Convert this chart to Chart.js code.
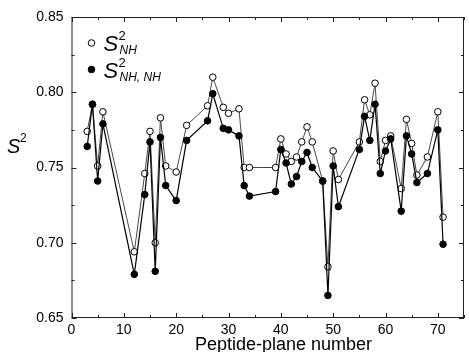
<!DOCTYPE html>
<html>
<head>
<meta charset="utf-8">
<script src="https://cdn.jsdelivr.net/npm/chart.js@4/dist/chart.umd.min.js"></script>
<style>
html,body{margin:0;padding:0;background:#fff;}
canvas{display:block;}
</style>
</head>
<body>
<canvas id="c" width="469" height="352"></canvas>
<script>
// Peptide-plane numbers
const planes = [3,4,5,6,12,14,15,16,17,18,20,22,26,27,29,30,32,33,34,39,40,41,42,43,44,45,46,48,49,50,51,55,56,57,58,59,60,61,63,64,65,66,68,70,71];
// S2_NH (open circles)
const s2NH = [0.774,0.792,0.751,0.787,0.694,0.746,0.774,0.700,0.783,0.751,0.747,0.778,0.791,0.810,0.790,0.786,0.789,0.750,0.750,0.750,0.769,0.759,0.754,0.757,0.767,0.777,0.767,0.741,0.684,0.761,0.742,0.767,0.795,0.785,0.806,0.754,0.768,0.771,0.736,0.782,0.766,0.745,0.757,0.787,0.717];
// S2_NH,NH (filled circles)
const s2NHNH = [0.764,0.792,0.741,0.779,0.679,0.732,0.767,0.681,0.770,0.738,0.728,0.768,0.781,0.799,0.776,0.775,0.771,0.738,0.731,0.734,0.762,0.753,0.739,0.744,0.754,0.760,0.750,0.741,0.665,0.751,0.724,0.762,0.784,0.768,0.792,0.746,0.761,0.769,0.721,0.771,0.759,0.740,0.746,0.775,0.699];
// Axis ticks
const xTickLabels = [0,10,20,30,40,50,60,70];
const yTickLabels = [0.65,0.70,0.75,0.80,0.85];
const xMinorTicks = [5,15,25,35,45,55,65,75];
const yMinorTicks = [0.675,0.725,0.775,0.825];

const FONT = "'Liberation Sans', Arial, Helvetica, sans-serif";

const framePlugin = {
  id: 'frameTicks',
  afterDraw(chart) {
    const ctx = chart.ctx;
    const a = chart.chartArea;
    const xs = chart.scales.x, ys = chart.scales.y;
    ctx.save();
    ctx.strokeStyle = '#222';
    ctx.lineWidth = 1;
    ctx.strokeRect(a.left + 0.5, a.top + 0.5, a.right - a.left - 1, a.bottom - a.top - 1);
    ctx.beginPath();
    const tick = (vals, len, isX) => {
      vals.forEach(v => {
        if (isX) {
          const p = Math.round(xs.getPixelForValue(v)) + 0.5;
          ctx.moveTo(p, a.bottom); ctx.lineTo(p, a.bottom - len);
          ctx.moveTo(p, a.top); ctx.lineTo(p, a.top + len);
        } else {
          const p = Math.round(ys.getPixelForValue(v)) + 0.5;
          ctx.moveTo(a.left, p); ctx.lineTo(a.left + len, p);
          ctx.moveTo(a.right, p); ctx.lineTo(a.right - len, p);
        }
      });
    };
    tick(xTickLabels, 5, true);
    tick(xMinorTicks, 3, true);
    tick(yTickLabels, 5, false);
    tick(yMinorTicks, 3, false);
    ctx.stroke();

    // Axis titles
    ctx.fillStyle = '#000';
    ctx.textBaseline = 'alphabetic';
    ctx.textAlign = 'center';
    ctx.font = '18px ' + FONT;
    ctx.fillText('Peptide-plane number', xs.getPixelForValue(40.5), 350);

    ctx.textAlign = 'left';
    ctx.font = 'italic 20px ' + FONT;
    ctx.fillText('S', 7, 153);
    ctx.font = '12px ' + FONT;
    ctx.fillText('2', 20, 142);

    // Legend
    const lx = a.left + 20;
    const drawMarker = (y, filled) => {
      ctx.beginPath();
      ctx.arc(lx, y, 3.3, 0, Math.PI * 2);
      ctx.fillStyle = filled ? '#000' : '#fff';
      ctx.fill();
      ctx.strokeStyle = '#000';
      ctx.lineWidth = 1;
      ctx.stroke();
    };
    drawMarker(43, false);
    drawMarker(69.5, true);
    ctx.fillStyle = '#000';
    const entry = (y, sub) => {
      ctx.font = 'italic 22px ' + FONT;
      ctx.fillText('S', lx + 12, y + 8);
      ctx.font = '13px ' + FONT;
      ctx.fillText('2', lx + 27, y - 3);
      ctx.font = 'italic 12px ' + FONT;
      ctx.fillText(sub, lx + 28, y + 11);
    };
    entry(43, 'NH');
    entry(69.5, 'NH, NH');
    ctx.restore();
  }
};

const toPts = (ys) => planes.map((x, i) => ({x: x, y: ys[i]}));

new Chart(document.getElementById('c'), {
  type: 'line',
  data: {
    datasets: [
      {
        label: 'S2 NH,NH',
        data: toPts(s2NHNH),
        order: 0,
        borderColor: '#000',
        borderWidth: 1.2,
        backgroundColor: '#000',
        pointBackgroundColor: '#000',
        pointBorderColor: '#000',
        pointRadius: 3.3,
        pointBorderWidth: 1,
        tension: 0
      },
      {
        label: 'S2 NH',
        data: toPts(s2NH),
        order: 1,
        borderColor: '#333',
        borderWidth: 0.9,
        backgroundColor: '#fff',
        pointBackgroundColor: '#fff',
        pointBorderColor: '#000',
        pointRadius: 3.3,
        pointBorderWidth: 1,
        tension: 0
      }
    ]
  },
  options: {
    responsive: false,
    animation: false,
    events: [],
    layout: { padding: { top: 17, right: 4, left: 0, bottom: 0 } },
    plugins: { legend: { display: false }, tooltip: { enabled: false } },
    scales: {
      x: {
        type: 'linear',
        min: 0, max: 75,
        grid: { display: false, drawTicks: false },
        border: { display: false },
        ticks: {
          stepSize: 10,
          includeBounds: false,
          autoSkip: false,
          maxRotation: 0,
          padding: 4,
          color: '#000',
          font: { family: FONT, size: 14 },
          callback: (v) => xTickLabels.includes(v) ? String(v) : ''
        },
        afterFit: (s) => { s.height = 34; }
      },
      y: {
        type: 'linear',
        min: 0.65, max: 0.85,
        grid: { display: false, drawTicks: false },
        border: { display: false },
        ticks: {
          stepSize: 0.05,
          padding: 8,
          color: '#000',
          font: { family: FONT, size: 14 },
          callback: (v) => {
            const m = yTickLabels.find(t => Math.abs(t - v) < 1e-6);
            return m !== undefined ? m.toFixed(2) : '';
          }
        },
        afterFit: (s) => { s.width = 71.5; }
      }
    }
  },
  plugins: [framePlugin]
});
</script>
</body>
</html>
